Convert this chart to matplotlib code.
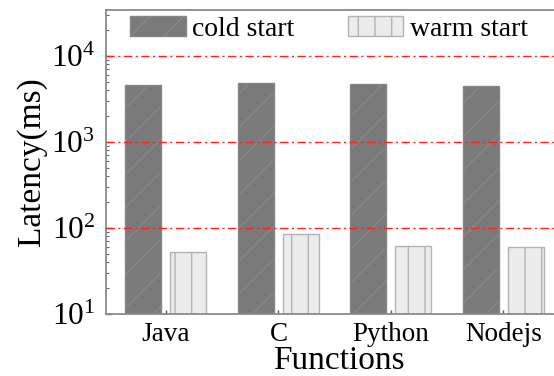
import matplotlib
matplotlib.use("Agg")
import matplotlib.pyplot as plt
import numpy as np

categories = ["Java", "C", "Python", "Nodejs"]
cold_start = [4600, 4810, 4720, 4480]
warm_start = [52, 85, 61, 58.5]
series_labels = ["cold start", "warm start"]
grid_levels = [1e2, 1e3, 1e4]

plt.rcParams["font.family"] = ["Liberation Serif", "DejaVu Serif"]
plt.rcParams["mathtext.fontset"] = "custom"
plt.rcParams["mathtext.rm"] = "Liberation Serif"
plt.rcParams["mathtext.it"] = "Liberation Serif:italic"
plt.rcParams["mathtext.bf"] = "Liberation Serif:bold"
plt.rcParams["hatch.linewidth"] = 1.0

W, H = 554, 376
fig = plt.figure(figsize=(W / 100, H / 100), dpi=100)
left, right, top, bottom = 106, 571, 10, 314
ax = fig.add_axes([left / W, 1 - bottom / H, (right - left) / W, (bottom - top) / H])

x = np.arange(len(categories))
bw = 0.32
off = 0.2
ax.bar(x - off, cold_start, bw, bottom=1, color="#7a7a7a", edgecolor="#868686",
       hatch="/", linewidth=1.0, label=series_labels[0], zorder=2)
ax.bar(x + off, warm_start, bw, bottom=1, color="#ececec", edgecolor="#b3b3b3",
       hatch="|", linewidth=1.0, label=series_labels[1], zorder=2)

for g in grid_levels:
    ax.axhline(g, color="#ff2020", linestyle=(0, (6, 2.5, 1.5, 2.5)), linewidth=1.0, zorder=3)

ax.set_yscale("log")
ax.set_ylim(10, 34300)
ax.set_xlim(-0.533, 3.6)
ax.set_xticks(x)
ax.set_xticklabels(categories, fontsize=19.5)
ax.tick_params(axis="x", direction="in", length=3, width=1, color="#555555", pad=6)
ax.tick_params(axis="y", which="major", direction="in", length=4, width=1, color="#666666",
               labelsize=22.5, pad=8)
ax.tick_params(axis="y", which="minor", direction="in", length=2, width=0.8, color="#666666")
ax.set_ylabel("Latency(ms)", fontsize=24, labelpad=3)
ax.set_xlabel("Functions", fontsize=24, labelpad=-1)

for s in ax.spines.values():
    s.set_color("#8a8a8a")
    s.set_linewidth(1.3)

ax.legend(loc="upper left", bbox_to_anchor=(130 / W, 1 - 16 / H), bbox_transform=fig.transFigure,
          ncol=2, frameon=False, fontsize=20, handlelength=2.0, handleheight=0.74,
          handletextpad=0.25, columnspacing=1.9, borderpad=0, borderaxespad=0)

fig.savefig("out.png", dpi=100)
